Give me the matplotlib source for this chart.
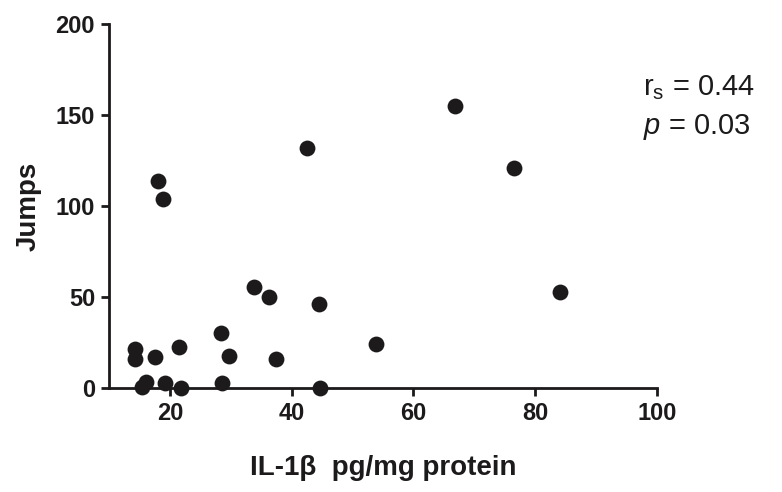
import numpy as np
import matplotlib
matplotlib.use("Agg")
import matplotlib.pyplot as plt

plt.rcParams['font.family'] = ['Liberation Sans', 'DejaVu Sans']
plt.rcParams['mathtext.fontset'] = 'custom'
plt.rcParams['mathtext.rm'] = 'Liberation Sans'
plt.rcParams['mathtext.it'] = 'Liberation Sans:italic'

# IL-1b (pg/mg protein) vs jumps
il1b = [14.3, 14.3, 17.5, 21.5, 28.4, 29.7, 37.4, 33.8, 36.2, 44.5,
        16.1, 15.5, 19.2, 21.9, 28.5, 44.6, 18.0, 18.8, 42.5, 66.9,
        76.6, 84.1, 53.9]
jumps = [21.5, 16, 17, 22.7, 30, 17.6, 16, 55.7, 50, 46,
         3.5, 0.4, 3, 0, 3, 0, 114, 104, 132, 155,
         121, 53, 24]

xticks = [20, 40, 60, 80, 100]
yticks = [0, 50, 100, 150, 200]

fig = plt.figure(figsize=(7.82, 4.92), dpi=100)
ax = fig.add_axes([0.1394, 0.2114, 0.7007, 0.7398])

ax.scatter(il1b, jumps, s=130, color='#1c1a1b', zorder=3, clip_on=False, linewidths=0)

ax.set_xlim(10, 100)
ax.set_ylim(0, 200)
ax.set_xticks(xticks)
ax.set_yticks(yticks)

for side in ['top', 'right']:
    ax.spines[side].set_visible(False)
for side in ['left', 'bottom']:
    ax.spines[side].set_linewidth(2.0)
    ax.spines[side].set_color('#1c1a1b')

ax.tick_params(direction='out', length=6, width=2.0, color='#1c1a1b', labelsize=17, pad=4)
for lab in ax.get_xticklabels() + ax.get_yticklabels():
    lab.set_fontweight('bold')
    lab.set_color('#1c1a1b')

ax.set_xlabel("IL-1β  pg/mg protein", fontsize=20, fontweight='bold', color='#1c1a1b', labelpad=22)
ax.set_ylabel("Jumps", fontsize=20, fontweight='bold', color='#1c1a1b', labelpad=10)

fig.text(0.822, 0.807, r'r$_\mathregular{s}$ = 0.44', fontsize=21, color='#1c1a1b')
fig.text(0.822, 0.728, r'$\mathit{p}$ = 0.03', fontsize=21, color='#1c1a1b')

fig.savefig('out.png', dpi=100)
